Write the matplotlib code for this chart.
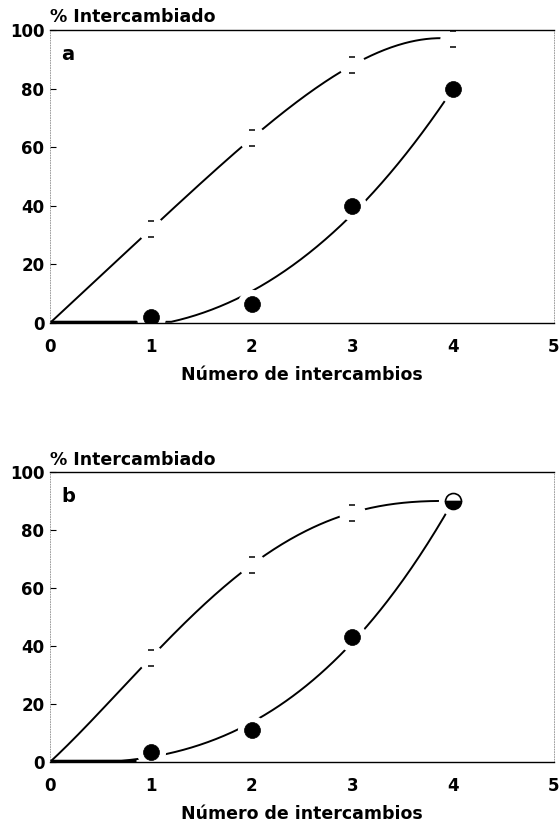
import numpy as np
import matplotlib.pyplot as plt
from matplotlib.path import Path

# number of exchanges
x_curve = [0, 1, 2, 3, 4]
x_marks = [1, 2, 3, 4]

# panel a
a_open = [0, 32, 63, 88, 97]
a_filled = [0, 2, 6.5, 40, 80]
# panel b
b_open = [0, 36, 68, 86, 90]
b_filled = [0, 3.5, 11, 43, 90]

x_ticks = [0, 1, 2, 3, 4, 5]
y_ticks = [0, 20, 40, 60, 80, 100]

plt.rcParams['font.family'] = ['DejaVu Sans']
plt.rcParams['font.weight'] = 'bold'

# open circles print only as two short dashes (top and bottom)
dash_marker = Path([(-0.4, 1), (0.4, 1), (-0.4, -1), (0.4, -1)],
                   [Path.MOVETO, Path.LINETO, Path.MOVETO, Path.LINETO])


def curve_open(x, y, xs):
    # smooth curve through every open point
    return np.polyval(np.polyfit(x, y, 4), xs)


def curve_filled(x, y, xs):
    # least squares cubic, pinned near both ends (hand drawn look)
    c = np.polyfit(x, y, 3, w=[10, 1, 1, 1, 10])
    return np.polyval(c, xs)


def draw_panel(ax, open_vals, filled_vals, letter, half_last=False):
    xs = np.linspace(0, 4, 300)
    ax.plot(xs, np.clip(curve_open(x_curve, open_vals, xs), 0, None), color='black', lw=1.4, zorder=1)
    ax.plot(xs, np.clip(curve_filled(x_curve, filled_vals, xs), 0.4, None), color='black', lw=1.4, zorder=1)

    # white disks break the curves around every point
    ax.plot(x_marks, open_vals[1:], ls='none', marker='o', ms=19, mfc='white', mec='none', zorder=1.5)
    ax.plot(x_marks, filled_vals[1:], ls='none', marker='o', ms=21, mfc='white', mec='none', zorder=1.5)

    ax.plot([0, 0.85], [0.5, 0.5], color='black', lw=2.4, zorder=1.8, solid_capstyle='butt')

    ax.plot(x_marks[:-1] if half_last else x_marks,
            open_vals[1:-1] if half_last else open_vals[1:],
            ls='none', marker=dash_marker, ms=11, mec='black', mew=1.1, zorder=3)
    n = len(x_marks) - 1 if half_last else len(x_marks)
    ax.plot(x_marks[:n], filled_vals[1:n + 1], ls='none', marker='o', ms=11.5,
            mfc='black', mec='black', mew=0.5, zorder=4)
    if half_last:
        ax.plot(x_marks[-1:], filled_vals[-1:], ls='none', marker='o', ms=11.5,
                fillstyle='bottom', mfc='black', mfcalt='white', mec='black',
                mew=1.2, zorder=4)

    ax.set_xlim(0, 5)
    ax.set_ylim(0, 100)
    ax.set_xticks(x_ticks)
    ax.set_yticks(y_ticks)
    ax.tick_params(axis='x', length=0, pad=11, labelsize=12)
    ax.tick_params(axis='y', direction='in', length=4, width=0.8, pad=4, labelsize=12)
    for s in ['left', 'right']:
        ax.spines[s].set_linestyle((0, (1, 2)))
        ax.spines[s].set_linewidth(0.6)
        ax.spines[s].set_color('0.55')
    ax.spines['top'].set_linewidth(1.0)
    ax.spines['bottom'].set_linewidth(1.0)
    ax.set_xlabel('Número de intercambios', fontsize=12.5, fontweight='bold', labelpad=7)
    ax.text(0.0, 1.012, '% Intercambiado', transform=ax.transAxes, fontsize=12.5,
            fontweight='bold', ha='left', va='bottom')
    ax.text(0.022, 0.915, letter, transform=ax.transAxes, fontsize=14,
            fontweight='bold', ha='left', va='center')


fig = plt.figure(figsize=(5.59, 8.24), dpi=100)
ax_a = fig.add_axes([0.0894, 0.608, 0.9016, 0.3556])
ax_b = fig.add_axes([0.0894, 0.0752, 0.9016, 0.352])

draw_panel(ax_a, a_open, a_filled, 'a')
draw_panel(ax_b, b_open, b_filled, 'b', half_last=True)

fig.savefig('out.png', dpi=100, facecolor='white')
